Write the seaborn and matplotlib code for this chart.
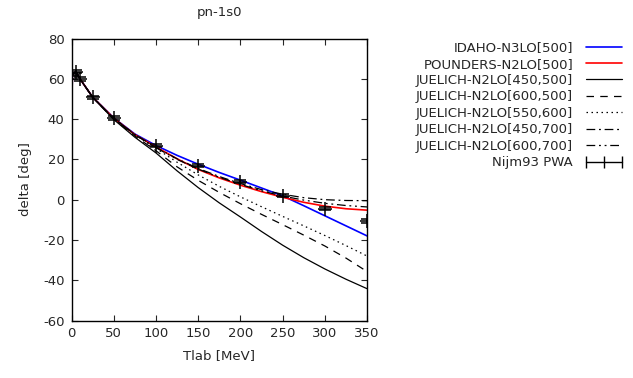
import numpy as np
import pandas as pd
import seaborn as sns
import matplotlib
matplotlib.use('Agg')
import matplotlib.pyplot as plt
from matplotlib.lines import Line2D

tlab = [0, 1, 5, 10, 25, 50, 75, 100, 125, 150, 175, 200, 225, 250, 275, 300, 325, 350]

idaho_n3lo_500 = [38, 62.1, 63.6, 60.0, 50.9, 40.6, 32.6, 26.9, 22.0, 17.6, 13.5, 9.7, 5.8, 1.9, -3.0, -8.0, -13.0, -18.0]
pounders_n2lo_500 = [38, 62.1, 63.6, 60.0, 50.9, 40.5, 32.3, 26.2, 20.3, 15.0, 10.8, 7.2, 4.0, 1.2, -1.3, -3.2, -4.5, -5.2]
juelich_450_500 = [38, 62.1, 63.6, 60.0, 50.8, 39.8, 31.0, 23.2, 14.3, 6.0, -1.6, -8.6, -15.8, -22.6, -28.8, -34.4, -39.5, -44.2]
juelich_600_500 = [38, 62.1, 63.6, 60.0, 50.8, 40.0, 31.6, 24.3, 16.3, 9.6, 3.6, -2.0, -7.3, -12.4, -17.6, -23.0, -29.0, -35.7]
juelich_550_600 = [38, 62.1, 63.6, 60.0, 50.9, 40.2, 32.2, 25.5, 18.6, 12.3, 6.6, 1.4, -3.5, -8.3, -13.0, -17.8, -22.8, -28.0]
juelich_450_700 = [38, 62.1, 63.6, 60.0, 50.9, 40.4, 32.4, 26.0, 20.3, 15.5, 11.5, 8.0, 5.0, 2.7, 1.0, 0.0, -0.4, -0.5]
juelich_600_700 = [38, 62.1, 63.6, 60.0, 50.9, 40.4, 32.3, 25.8, 20.0, 15.2, 11.1, 7.6, 4.4, 1.8, -0.2, -1.8, -2.9, -3.6]

# Nijmegen 93 partial wave analysis
t_pwa = [1, 5, 10, 25, 50, 100, 150, 200, 250, 300, 350]
delta_pwa = [62.07, 63.63, 59.96, 50.90, 40.54, 26.78, 16.94, 8.94, 1.96, -4.46, -10.59]
err_pwa = [0.8] * len(t_pwa)

sns.set_style('ticks')
plt.rcParams['font.family'] = ['DejaVu Sans']
plt.rcParams['font.size'] = 9.5
plt.rcParams['axes.unicode_minus'] = False

fig = plt.figure(figsize=(6.33, 3.78), dpi=100)
ax = fig.add_axes([0.113, 0.152, 0.467, 0.746])

curves = [
    ('IDAHO-N3LO[500]', idaho_n3lo_500, 'blue', '-', 1.2),
    ('POUNDERS-N2LO[500]', pounders_n2lo_500, 'red', '-', 1.2),
    ('JUELICH-N2LO[450,500]', juelich_450_500, 'black', '-', 0.9),
    ('JUELICH-N2LO[600,500]', juelich_600_500, 'black', (0, (6, 5)), 0.9),
    ('JUELICH-N2LO[550,600]', juelich_550_600, 'black', (0, (1.2, 2.8)), 0.9),
    ('JUELICH-N2LO[450,700]', juelich_450_700, 'black', (0, (7, 3, 1.5, 3)), 0.9),
    ('JUELICH-N2LO[600,700]', juelich_600_700, 'black', (0, (7, 3, 1.5, 3, 1.5, 3)), 0.9),
]

handles = []
for name, vals, col, ls, lw in curves:
    sns.lineplot(x=tlab, y=vals, color=col, linestyle=ls, linewidth=lw, ax=ax, legend=False)
    handles.append(Line2D([0], [0], color=col, linestyle=ls, linewidth=lw, label=name))

ax.errorbar(t_pwa, delta_pwa, yerr=err_pwa, fmt='+', color='black', ms=10, mew=1.1,
            elinewidth=1.1, capsize=4, capthick=1.1, zorder=5)
handles.append(Line2D([0], [0], color='black', linewidth=1.0, marker='|', ms=8, mew=1.0,
                      label='Nijm93 PWA'))

ax.set_xlim(0, 350)
ax.set_ylim(-60, 80)
ax.set_xticks(range(0, 351, 50))
ax.set_yticks(range(-60, 81, 20))
ax.tick_params(direction='in', top=True, right=True, length=4.5, width=0.8, labelsize=9.5, pad=5)
for s in ax.spines.values():
    s.set_linewidth(1.0)
    s.set_color('black')

ax.set_title('pn-1s0', fontsize=9.5, pad=16)
ax.set_xlabel('Tlab [MeV]', fontsize=9.5, labelpad=6)
ax.set_ylabel('delta [deg]', fontsize=9.5, labelpad=8)

fig.legend(handles=handles, loc='upper right', bbox_to_anchor=(0.997, 0.905), frameon=False,
           markerfirst=False, numpoints=3, handlelength=3.3, handletextpad=0.7,
           labelspacing=0.26, fontsize=9.5, borderaxespad=0)

fig.savefig('out.png', dpi=100)
